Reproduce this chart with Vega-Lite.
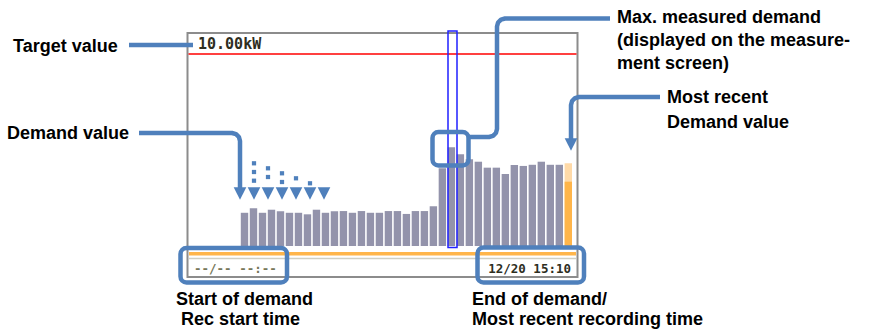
{
  "$schema": "https://vega.github.io/schema/vega-lite/v6.json",
  "width": 870,
  "height": 331,
  "autosize": "none",
  "padding": 0,
  "background": "white",
  "config": {"view": {"stroke": null}},
  "datasets": {
    "frame": [{"x": 187.5, "x2": 577.5, "y": 33, "y2": 277}],
    "target": [{"x": 188.5, "x2": 576.5, "y": 54}],
    "demand": [
      {"i": 0, "kW": 1.73, "kind": "past"},
      {"i": 1, "kW": 1.96, "kind": "past"},
      {"i": 2, "kW": 1.73, "kind": "past"},
      {"i": 3, "kW": 1.89, "kind": "past"},
      {"i": 4, "kW": 1.81, "kind": "past"},
      {"i": 5, "kW": 1.73, "kind": "past"},
      {"i": 6, "kW": 1.73, "kind": "past"},
      {"i": 7, "kW": 1.65, "kind": "past"},
      {"i": 8, "kW": 1.89, "kind": "past"},
      {"i": 9, "kW": 1.73, "kind": "past"},
      {"i": 10, "kW": 1.81, "kind": "past"},
      {"i": 11, "kW": 1.82, "kind": "past"},
      {"i": 12, "kW": 1.73, "kind": "past"},
      {"i": 13, "kW": 1.82, "kind": "past"},
      {"i": 14, "kW": 1.73, "kind": "past"},
      {"i": 15, "kW": 1.73, "kind": "past"},
      {"i": 16, "kW": 1.82, "kind": "past"},
      {"i": 17, "kW": 1.82, "kind": "past"},
      {"i": 18, "kW": 1.67, "kind": "past"},
      {"i": 19, "kW": 1.82, "kind": "past"},
      {"i": 20, "kW": 1.82, "kind": "past"},
      {"i": 21, "kW": 2.07, "kind": "past"},
      {"i": 22, "kW": 4.05, "kind": "past"},
      {"i": 23, "kW": 5.14, "kind": "past"},
      {"i": 24, "kW": 4.78, "kind": "past"},
      {"i": 25, "kW": 4.52, "kind": "past"},
      {"i": 26, "kW": 4.39, "kind": "past"},
      {"i": 27, "kW": 4.08, "kind": "past"},
      {"i": 28, "kW": 4.08, "kind": "past"},
      {"i": 29, "kW": 3.75, "kind": "past"},
      {"i": 30, "kW": 4.22, "kind": "past"},
      {"i": 31, "kW": 4.17, "kind": "past"},
      {"i": 32, "kW": 4.23, "kind": "past"},
      {"i": 33, "kW": 4.39, "kind": "past"},
      {"i": 34, "kW": 4.23, "kind": "past"},
      {"i": 35, "kW": 4.23, "kind": "past"},
      {"i": 36, "kW": 4.31, "kind": "forecast"},
      {"i": 36, "kW": 3.35, "kind": "current"}
    ],
    "band": [{"x": 189, "x2": 576, "y": 252, "y2": 255.5}],
    "sep": [{"x": 189, "x2": 576, "y": 258.5}],
    "maxmark": [{"x": 448, "x2": 457, "y": 31, "y2": 247.5}],
    "paths": [
      {"path": "target", "o": 0, "x": 129, "y": 45},
      {"path": "target", "o": 1, "x": 193, "y": 45},
      {"path": "demand", "o": 0, "x": 139, "y": 133},
      {"path": "demand", "o": 1, "x": 232, "y": 133},
      {"path": "demand", "o": 2, "x": 236, "y": 134.07},
      {"path": "demand", "o": 3, "x": 238.93, "y": 137},
      {"path": "demand", "o": 4, "x": 240, "y": 141},
      {"path": "demand", "o": 5, "x": 240, "y": 188},
      {"path": "max", "o": 0, "x": 468.5, "y": 137},
      {"path": "max", "o": 1, "x": 489, "y": 137},
      {"path": "max", "o": 2, "x": 493, "y": 135.93},
      {"path": "max", "o": 3, "x": 495.93, "y": 133},
      {"path": "max", "o": 4, "x": 497, "y": 129},
      {"path": "max", "o": 5, "x": 497, "y": 26.5},
      {"path": "max", "o": 6, "x": 498.07, "y": 22.5},
      {"path": "max", "o": 7, "x": 501, "y": 19.57},
      {"path": "max", "o": 8, "x": 505, "y": 18.5},
      {"path": "max", "o": 9, "x": 610, "y": 18.5},
      {"path": "recent", "o": 0, "x": 660, "y": 97},
      {"path": "recent", "o": 1, "x": 579, "y": 97},
      {"path": "recent", "o": 2, "x": 575, "y": 98.07},
      {"path": "recent", "o": 3, "x": 572.07, "y": 101},
      {"path": "recent", "o": 4, "x": 571, "y": 105},
      {"path": "recent", "o": 5, "x": 571, "y": 139}
    ],
    "boxes": [
      {"x": 432.5, "x2": 468.5, "y": 132, "y2": 165.5},
      {"x": 180.5, "x2": 287, "y": 248, "y2": 282.5},
      {"x": 477.5, "x2": 584, "y": 247.5, "y2": 282.5}
    ],
    "arrows": [
      {"x": 240, "y": 193.5},
      {"x": 254, "y": 193.5},
      {"x": 268, "y": 193.5},
      {"x": 282, "y": 193.5},
      {"x": 296, "y": 193.5},
      {"x": 310, "y": 193.5},
      {"x": 324, "y": 193.5},
      {"x": 571, "y": 144.5}
    ],
    "dots": [
      {"x": 254, "y": 163.3},
      {"x": 254, "y": 172},
      {"x": 254, "y": 180.7},
      {"x": 268, "y": 168.3},
      {"x": 268, "y": 177},
      {"x": 282, "y": 173.3},
      {"x": 282, "y": 182},
      {"x": 296, "y": 178.3},
      {"x": 310, "y": 183.3}
    ],
    "lcdTop": [{"x": 198, "y": 44, "text": "10.00kW"}],
    "lcdLeft": [{"x": 194, "y": 269, "text": "--/-- --:--"}],
    "lcdRight": [{"x": 571, "y": 269, "text": "12/20 15:10"}],
    "labels": [
      {"x": 13, "y": 46.5, "text": "Target value"},
      {"x": 7, "y": 134, "text": "Demand value"},
      {"x": 617, "y": 18, "text": "Max. measured demand"},
      {"x": 617, "y": 41, "text": "(displayed on the measure-"},
      {"x": 617, "y": 63.5, "text": "ment screen)"},
      {"x": 667, "y": 98, "text": "Most recent"},
      {"x": 667, "y": 122.5, "text": "Demand value"},
      {"x": 176, "y": 299.5, "text": "Start of demand"},
      {"x": 181, "y": 319.5, "text": "Rec start time"},
      {"x": 472, "y": 299.5, "text": "End of demand/"},
      {"x": 472, "y": 320, "text": "Most recent recording time"}
    ]
  },
  "resolve": {"scale": {"x": "independent", "y": "independent"}},
  "layer": [
    {
      "encoding": {
        "x": {"field": "x", "type": "quantitative", "scale": {"domain": [0, 870], "nice": false, "zero": false}, "axis": null},
        "y": {"field": "y", "type": "quantitative", "scale": {"domain": [0, 331], "reverse": true, "nice": false, "zero": false}, "axis": null}
      },
      "layer": [
        {
          "data": {"name": "frame"},
          "mark": {"type": "rect", "fill": "white", "stroke": "#8c8c8c", "strokeWidth": 2},
          "encoding": {"x2": {"field": "x2"}, "y2": {"field": "y2"}}
        },
        {
          "data": {"name": "target"},
          "mark": {"type": "rule", "stroke": "#ff0000", "strokeWidth": 1.5},
          "encoding": {"x2": {"field": "x2"}}
        }
      ]
    },
    {
      "data": {"name": "demand"},
      "mark": {"type": "bar", "width": 7.4},
      "encoding": {
        "x": {"field": "i", "type": "quantitative", "scale": {"domain": [-0.5, 36.5], "range": [235, 577.8], "nice": false, "zero": false}, "axis": null},
        "y": {"field": "kW", "type": "quantitative", "scale": {"domain": [0, 10], "range": [246, 54], "nice": false}, "axis": null},
        "y2": {"datum": 0},
        "color": {"field": "kind", "type": "nominal", "scale": {"domain": ["past", "forecast", "current"], "range": ["#9393ab", "#ffdaa8", "#ffb54a"]}, "legend": null}
      }
    },
    {
      "encoding": {
        "x": {"field": "x", "type": "quantitative", "scale": {"domain": [0, 870], "nice": false, "zero": false}, "axis": null},
        "y": {"field": "y", "type": "quantitative", "scale": {"domain": [0, 331], "reverse": true, "nice": false, "zero": false}, "axis": null}
      },
      "layer": [
        {
          "data": {"name": "band"},
          "mark": {"type": "rect", "fill": "#ffb54a"},
          "encoding": {"x2": {"field": "x2"}, "y2": {"field": "y2"}}
        },
        {
          "data": {"name": "sep"},
          "mark": {"type": "rule", "stroke": "#cfcfc4", "strokeWidth": 1.5},
          "encoding": {"x2": {"field": "x2"}}
        },
        {
          "data": {"name": "lcdTop"},
          "mark": {"type": "text", "font": "DejaVu Sans Mono", "fontWeight": "bold", "fontSize": 15, "align": "left", "baseline": "middle", "color": "#2e2e1e"},
          "encoding": {"text": {"field": "text"}}
        },
        {
          "data": {"name": "lcdLeft"},
          "mark": {"type": "text", "font": "DejaVu Sans Mono", "fontWeight": "bold", "fontSize": 12.5, "align": "left", "baseline": "middle", "color": "#77775a"},
          "encoding": {"text": {"field": "text"}}
        },
        {
          "data": {"name": "lcdRight"},
          "mark": {"type": "text", "font": "DejaVu Sans Mono", "fontWeight": "bold", "fontSize": 12.5, "align": "right", "baseline": "middle", "color": "#2e2e1e"},
          "encoding": {"text": {"field": "text"}}
        },
        {
          "data": {"name": "maxmark"},
          "mark": {"type": "rect", "fill": "white", "fillOpacity": 0, "stroke": "#2020ff", "strokeWidth": 1.5},
          "encoding": {"x2": {"field": "x2"}, "y2": {"field": "y2"}}
        },
        {
          "data": {"name": "paths"},
          "mark": {"type": "line", "color": "#4f80bc", "strokeWidth": 4.5, "strokeCap": "butt", "strokeJoin": "round"},
          "encoding": {
            "detail": {"field": "path", "type": "nominal"},
            "order": {"field": "o", "type": "quantitative"}
          }
        },
        {
          "data": {"name": "boxes"},
          "mark": {"type": "rect", "fill": "white", "fillOpacity": 0, "stroke": "#4f80bc", "strokeWidth": 4.5, "cornerRadius": 6},
          "encoding": {"x2": {"field": "x2"}, "y2": {"field": "y2"}}
        },
        {
          "data": {"name": "arrows"},
          "mark": {"type": "point", "shape": "M-1,-1L1,-1L0,1Z", "filled": true, "size": 160, "color": "#4f80bc", "opacity": 1}
        },
        {
          "data": {"name": "dots"},
          "mark": {"type": "point", "shape": "square", "filled": true, "size": 18, "color": "#4f80bc", "opacity": 1}
        },
        {
          "data": {"name": "labels"},
          "mark": {"type": "text", "font": "Liberation Sans", "fontWeight": "bold", "fontSize": 18, "align": "left", "baseline": "middle", "color": "#000000"},
          "encoding": {"text": {"field": "text"}}
        }
      ]
    }
  ]
}
